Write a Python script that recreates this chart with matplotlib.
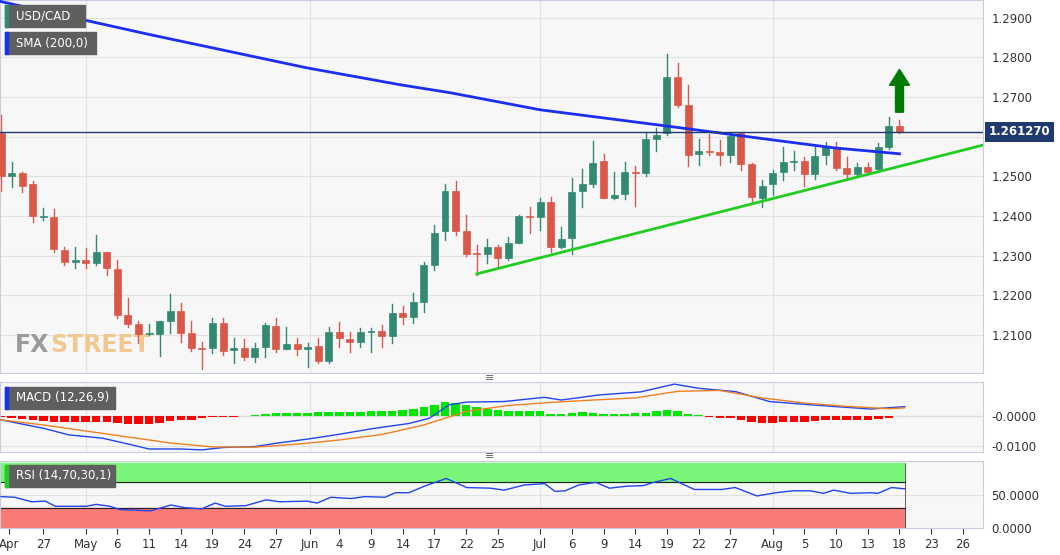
import matplotlib

matplotlib.use("Agg")
import matplotlib.pyplot as plt
from matplotlib.patches import Rectangle, FancyArrow

# daily candles, USD/CAD
opens = [1.2609, 1.2500, 1.2508, 1.2481, 1.2397, 1.2397, 1.2314, 1.2285, 1.2288, 1.2281,
         1.2310, 1.2266, 1.2150, 1.2128, 1.2102, 1.2102, 1.2134, 1.2161, 1.2104, 1.2068,
         1.2066, 1.2131, 1.2062, 1.2066, 1.2045, 1.2069, 1.2123, 1.2065, 1.2077, 1.2064,
         1.2071, 1.2035, 1.2107, 1.2089, 1.2081, 1.2108, 1.2111, 1.2097, 1.2155, 1.2145,
         1.2184, 1.2277, 1.2361, 1.2463, 1.2362, 1.2306, 1.2304, 1.2321, 1.2293, 1.2333,
         1.2401, 1.2397, 1.2436, 1.2321, 1.2344, 1.2462, 1.2481, 1.2540, 1.2445, 1.2455,
         1.2512, 1.2508, 1.2594, 1.2609, 1.2750, 1.2680, 1.2557, 1.2565, 1.2561, 1.2554,
         1.2609, 1.2531, 1.2445, 1.2481, 1.2510, 1.2537, 1.2540, 1.2506, 1.2554, 1.2575,
         1.2521, 1.2506, 1.2523, 1.2519, 1.2573, 1.2627]
highs = [1.2655, 1.2536, 1.2510, 1.2489, 1.2420, 1.2417, 1.2323, 1.2323, 1.2319, 1.2351,
         1.2310, 1.2289, 1.2192, 1.2136, 1.2128, 1.2136, 1.2203, 1.2180, 1.2136, 1.2083,
         1.2142, 1.2144, 1.2092, 1.2089, 1.2080, 1.2129, 1.2142, 1.2119, 1.2092, 1.2080,
         1.2092, 1.2119, 1.2132, 1.2108, 1.2117, 1.2117, 1.2125, 1.2178, 1.2173, 1.2205,
         1.2283, 1.2378, 1.2481, 1.2488, 1.2403, 1.2327, 1.2341, 1.2327, 1.2346, 1.2403,
         1.2424, 1.2445, 1.2449, 1.2372, 1.2495, 1.2518, 1.2590, 1.2557, 1.2512, 1.2537,
         1.2526, 1.2613, 1.2622, 1.2809, 1.2787, 1.2731, 1.2594, 1.2607, 1.2592, 1.2607,
         1.2611, 1.2533, 1.2491, 1.2516, 1.2575, 1.2563, 1.2550, 1.2577, 1.2588, 1.2588,
         1.2550, 1.2533, 1.2533, 1.2584, 1.2649, 1.2643]
lows = [1.2462, 1.2473, 1.2460, 1.2384, 1.2390, 1.2310, 1.2277, 1.2268, 1.2268, 1.2277,
        1.2251, 1.2142, 1.2121, 1.2079, 1.2100, 1.2047, 1.2104, 1.2083, 1.2060, 1.2013,
        1.2055, 1.2049, 1.2028, 1.2038, 1.2033, 1.2045, 1.2058, 1.2064, 1.2049, 1.2020,
        1.2028, 1.2030, 1.2070, 1.2058, 1.2070, 1.2058, 1.2069, 1.2080, 1.2128, 1.2129,
        1.2157, 1.2264, 1.2340, 1.2352, 1.2299, 1.2251, 1.2281, 1.2272, 1.2289, 1.2331,
        1.2357, 1.2365, 1.2310, 1.2319, 1.2304, 1.2424, 1.2474, 1.2445, 1.2442, 1.2442,
        1.2425, 1.2501, 1.2563, 1.2605, 1.2675, 1.2526, 1.2529, 1.2554, 1.2529, 1.2537,
        1.2515, 1.2432, 1.2422, 1.2453, 1.2491, 1.2516, 1.2476, 1.2493, 1.2532, 1.2516,
        1.2491, 1.2501, 1.2508, 1.2512, 1.2569, 1.2609]
closes = [1.2500, 1.2508, 1.2477, 1.2399, 1.2399, 1.2316, 1.2285, 1.2288, 1.2282, 1.2310,
          1.2268, 1.2150, 1.2128, 1.2102, 1.2103, 1.2134, 1.2161, 1.2105, 1.2066, 1.2065,
          1.2131, 1.2060, 1.2066, 1.2045, 1.2066, 1.2126, 1.2065, 1.2078, 1.2064, 1.2070,
          1.2035, 1.2108, 1.2092, 1.2081, 1.2108, 1.2110, 1.2097, 1.2155, 1.2146, 1.2182,
          1.2277, 1.2358, 1.2463, 1.2361, 1.2304, 1.2303, 1.2321, 1.2293, 1.2333, 1.2401,
          1.2397, 1.2436, 1.2321, 1.2341, 1.2460, 1.2480, 1.2533, 1.2445, 1.2454, 1.2512,
          1.2508, 1.2594, 1.2605, 1.2750, 1.2680, 1.2554, 1.2563, 1.2561, 1.2554, 1.2602,
          1.2532, 1.2448, 1.2476, 1.2508, 1.2536, 1.2540, 1.2506, 1.2552, 1.2575, 1.2521,
          1.2506, 1.2523, 1.2512, 1.2573, 1.2627, 1.2611]

last_price = 1.261270
price_ticks = [1.21, 1.22, 1.23, 1.24, 1.25, 1.27, 1.28, 1.29]

sma_idx = [0, 14.2, 28.9, 37.8, 42.5, 51, 63, 73, 78.8, 85]
sma_val = [1.2941, 1.2857, 1.2774, 1.2731, 1.2711, 1.2668, 1.2627, 1.2592, 1.2572, 1.2557]

trend_idx = [45, 92.9]
trend_val = [1.2254, 1.2579]

macd_idx = [0, 4, 6.4, 9.6, 11.6, 14, 17, 19, 21, 24, 26, 29, 32, 35, 38.6, 40.5, 42.4, 44,
            47.6, 51.4, 53, 56.6, 60.5, 63.7, 66, 69.5, 72.7, 75.9, 79, 82.3, 85.5]
macd_val = [-0.0013, -0.0041, -0.0063, -0.0074, -0.0090, -0.0110, -0.0110, -0.0113, -0.0105,
            -0.0102, -0.0091, -0.0077, -0.0061, -0.0043, -0.0025, -0.0008, 0.0037, 0.0046,
            0.0048, 0.0062, 0.0053, 0.0070, 0.0080, 0.0106, 0.0092, 0.0081, 0.0048, 0.0039,
            0.0031, 0.0023, 0.0031]
signal_idx = [0, 4, 8, 12, 16, 20, 24, 28, 32, 36, 40, 44, 48, 52, 56, 60, 64, 68, 72, 76, 80, 84, 85.5]
signal_val = [-0.0013, -0.0030, -0.0050, -0.0070, -0.0090, -0.0103, -0.0104, -0.0094, -0.0080,
              -0.0062, -0.0030, 0.0015, 0.0035, 0.0045, 0.0053, 0.0060, 0.0082, 0.0085, 0.0060,
              0.0043, 0.0032, 0.0024, 0.0027]
hist_val = [-0.0004, -0.0006, -0.0010, -0.0014, -0.0017, -0.0019, -0.0020, -0.0020, -0.0021, -0.0019,
            -0.0021, -0.0024, -0.0026, -0.0027, -0.0026, -0.0022, -0.0018, -0.0014, -0.0012, -0.0008,
            -0.0004, -0.0003, -0.0002, 0.0000, 0.0003, 0.0008, 0.0009, 0.0010, 0.0011, 0.0011,
            0.0012, 0.0012, 0.0012, 0.0013, 0.0014, 0.0015, 0.0016, 0.0018, 0.0020, 0.0022,
            0.0030, 0.0038, 0.0047, 0.0043, 0.0035, 0.0030, 0.0023, 0.0020, 0.0018, 0.0018,
            0.0018, 0.0017, 0.0006, 0.0008, 0.0011, 0.0013, 0.0010, 0.0008, 0.0007, 0.0008,
            0.0009, 0.0011, 0.0018, 0.0020, 0.0015, 0.0008, 0.0002, -0.0002, -0.0006, -0.0007,
            -0.0012, -0.0020, -0.0024, -0.0022, -0.0021, -0.0021, -0.0019, -0.0016, -0.0014, -0.0013,
            -0.0013, -0.0012, -0.0012, -0.0011, -0.0007, 0.0001]

rsi_zx = [0, 20, 45, 65, 80, 125, 140, 160, 175, 220, 250, 270, 295, 315, 330, 360, 390, 410,
          450, 465, 485, 515, 535, 565, 580, 600, 625, 655, 685, 720, 740, 770, 800, 815, 830,
          850, 875, 895, 920, 945, 960, 985, 1020, 1060, 1080, 1112, 1140, 1165, 1190, 1210,
          1225, 1250, 1280, 1290, 1310, 1330]
rsi_val = [48, 47, 40, 41, 33, 33, 36, 33, 28, 26, 35, 31, 29, 38, 33, 34, 43, 40, 41, 38, 47,
           45, 48, 47, 54, 54, 65, 76, 62, 61, 58, 66, 68, 56, 57, 66, 70, 61, 64, 65, 70, 76,
           59, 59, 62, 49, 54, 57, 57, 53, 58, 53, 54, 53, 62, 60]
rsi_idx = [z / 15.55 for z in rsi_zx]

date_pos = [0.75, 4, 8, 11, 14, 17, 20, 23, 26, 29.2, 32, 35, 38, 41, 44, 47, 51, 54, 57, 60,
            63, 66, 69, 73, 76, 79, 82, 85, 88, 91]
date_labels = ["Apr", "27", "May", "6", "11", "14", "19", "24", "27", "Jun", "4", "9", "14", "17",
               "22", "25", "Jul", "6", "9", "14", "19", "22", "27", "Aug", "5", "10", "13", "18",
               "23", "26"]

GREEN = "#338a72"
RED = "#d9584a"
BG = "#f7f7f7"
GRID = "#e2e2e2"
XMIN, XMAX = -0.1, 92.9
W_PX = 983

fig = plt.figure(figsize=(10.6, 5.55), dpi=100)
fig.patch.set_facecolor("white")
ax = fig.add_axes([0, 1 - 373 / 555, W_PX / 1060, 373 / 555])
ax_m = fig.add_axes([0, 1 - 452 / 555, W_PX / 1060, 70 / 555])
ax_r = fig.add_axes([0, 1 - 528 / 555, W_PX / 1060, 67 / 555])

vgrid = [8, 29.2, 51, 73]
for a in (ax, ax_m, ax_r):
    a.set_facecolor(BG)
    a.set_xlim(XMIN, XMAX)
    for s in a.spines.values():
        s.set_color("#c8cde0")
    for v in vgrid:
        a.axvline(v, color=GRID, lw=0.8, zorder=0)
    a.yaxis.tick_right()
    a.tick_params(axis="y", length=0, labelsize=8.5, colors="#333333", pad=6)
    a.set_xticks([])

# main price panel
for p in price_ticks + [1.26]:
    ax.axhline(p, color=GRID, lw=0.8, zorder=0)
for i in range(len(opens)):
    o, h, l, c = opens[i], highs[i], lows[i], closes[i]
    col = GREEN if c >= o else RED
    ax.plot([i, i], [l, h], color=col, lw=1, zorder=2)
    ax.add_patch(Rectangle((i - 0.33, min(o, c)), 0.66, max(abs(c - o), 0.00025),
                           facecolor=col, edgecolor=col, lw=0.5, zorder=3))
ax.plot(sma_idx, sma_val, color="#1a2ff0", lw=2, zorder=4)
ax.plot(trend_idx, trend_val, color="#22cc22", lw=2, zorder=4)
ax.axhline(last_price, color="#1f3a6e", lw=1, zorder=4)
ax.add_patch(FancyArrow(85, 1.2662, 0, 0.0068, width=0.75, head_width=1.9,
                        head_length=0.0040, length_includes_head=False, color="#007a00", zorder=5))
ax.set_ylim(1.2004, 1.2945)
ax.set_yticks(price_ticks)
ax.set_yticklabels([f"{p:.4f}" for p in price_ticks])
ax.text(1.006, (last_price - 1.2004) / (1.2945 - 1.2004), f"{last_price:.6f}",
        transform=ax.transAxes, color="white", fontsize=8.5, fontweight="bold", va="center",
        ha="left", bbox=dict(boxstyle="square,pad=0.3", fc="#1f3a6e", ec="none"), zorder=6)


def label_box(a, text, top_px, width_px, stripe):
    h_ax = a.bbox.height
    hb = 22 / h_ax
    y0 = 1 - (top_px + 22) / h_ax
    a.add_patch(Rectangle((5 / W_PX, y0), width_px / W_PX, hb, transform=a.transAxes,
                          color="#5f5f5f", zorder=7))
    a.add_patch(Rectangle((5 / W_PX, y0), 3 / W_PX, hb, transform=a.transAxes,
                          color=stripe, zorder=8))
    a.text(16 / W_PX, y0 + hb / 2, text, transform=a.transAxes, color="white", fontsize=8.5,
           va="center", ha="left", zorder=9)


label_box(ax, "USD/CAD", 5, 80, GREEN)
label_box(ax, "SMA (200,0)", 32, 91, "#1a2ff0")
ax.text(15 / W_PX, 0.055, "FX", transform=ax.transAxes, fontsize=17, fontweight="bold",
        color="#9a9a9a", zorder=1)
ax.text(50 / W_PX, 0.055, "STREET", transform=ax.transAxes, fontsize=17, fontweight="bold",
        color="#f0c890", zorder=1)

# MACD panel
ax_m.axhline(0, color="#dddddd", lw=1, zorder=0)
ax_m.axhline(-0.01, color=GRID, lw=0.8, zorder=0)
hcol = ["#00e600" if v >= 0 else "#ff0000" for v in hist_val]
ax_m.bar(range(len(hist_val)), hist_val, width=0.8, color=hcol, zorder=2)
ax_m.plot(macd_idx, macd_val, color="#2244ee", lw=1, zorder=3)
ax_m.plot(signal_idx, signal_val, color="#f08020", lw=1, zorder=3)
ax_m.set_ylim(-0.0120, 0.0113)
ax_m.set_yticks([0, -0.01])
ax_m.set_yticklabels(["-0.0000", "-0.0100"])
label_box(ax_m, "MACD (12,26,9)", 5, 110, "#1a2ff0")

# RSI panel
ax_r.axhspan(70, 100, xmin=0, xmax=85.5 / (XMAX - XMIN), color="#7af57a", zorder=1)
ax_r.axhspan(0, 30, xmin=0, xmax=85.5 / (XMAX - XMIN), color="#f97b78", zorder=1)
ax_r.plot([XMIN, 85.5], [70, 70], color="#222222", lw=0.8, zorder=2)
ax_r.plot([XMIN, 85.5], [30, 30], color="#222222", lw=0.8, zorder=2)
ax_r.plot([85.5, 85.5], [0, 100], color="#222222", lw=0.5, zorder=2)
ax_r.axhline(50, color=GRID, lw=0.8, zorder=0)
ax_r.plot(rsi_idx, rsi_val, color="#2244ee", lw=1, zorder=3)
ax_r.set_ylim(-0.5, 103)
ax_r.set_yticks([0, 50])
ax_r.set_yticklabels(["0.0000", "50.0000"])
label_box(ax_r, "RSI (14,70,30,1)", 4, 110, "#22cc22")

ax_r.set_xticks(date_pos)
ax_r.set_xticklabels(date_labels)
ax_r.tick_params(axis="x", length=4, labelsize=8.5, colors="#333333", pad=3)

for yy in (378, 456):
    fig.text(490 / 1060, 1 - yy / 555, "≡", ha="center", va="center", fontsize=8, color="#666666")

fig.savefig("out.png", dpi=100)
